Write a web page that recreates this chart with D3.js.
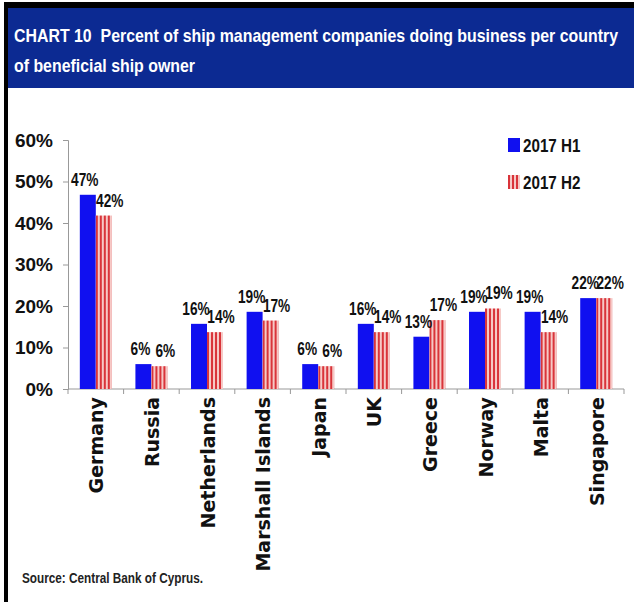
<!DOCTYPE html>
<html>
<head>
<meta charset="utf-8">
<script src="https://cdn.jsdelivr.net/npm/d3@7"></script>
<style>
  body { margin: 0; background: #fff; }
  svg { display: block; }
  .narrow { font-family: "Liberation Sans Narrow", "Arial Narrow", "Liberation Sans", sans-serif; font-weight: bold; }
</style>
</head>
<body>
<svg width="634" height="602"></svg>
<script>
// データ
const categories = ["Germany", "Russia", "Netherlands", "Marshall Islands", "Japan", "UK", "Greece", "Norway", "Malta", "Singapore"];
const seriesNames = ["2017 H1", "2017 H2"];
const h1Values = [46.8, 6.0, 15.7, 18.6, 6.0, 15.7, 12.6, 18.6, 18.6, 21.9];
const h2Values = [41.8, 5.5, 13.7, 16.5, 5.5, 13.7, 16.6, 19.4, 13.7, 21.9];
const yTicks = [0, 10, 20, 30, 40, 50, 60];
const titleLines = ["CHART 10  Percent of ship management companies doing business per country", "of beneficial ship owner"];
const sourceText = "Source: Central Bank of Cyprus.";

const width = 634, height = 602;
const svg = d3.select("svg");

// 文字を横に詰める関数
function condense(sel, f) {
  sel.each(function () {
    const len = this.getComputedTextLength();
    d3.select(this).attr("textLength", len * f).attr("lengthAdjust", "spacingAndGlyphs");
  });
}

// 枠とタイトル帯
svg.append("rect").attr("x", 0).attr("y", 0).attr("width", width).attr("height", height).attr("fill", "#fff");
svg.append("rect").attr("x", 8).attr("y", 8).attr("width", width - 8).attr("height", 80).attr("fill", "#0c2a92");
svg.append("rect").attr("x", 4).attr("y", 2).attr("width", width - 4).attr("height", 6).attr("fill", "#000");
svg.append("rect").attr("x", 4).attr("y", 2).attr("width", 4).attr("height", height - 2).attr("fill", "#000");

const titles = svg.selectAll(".title")
  .data(titleLines)
  .enter().append("text")
  .attr("class", "title narrow")
  .attr("x", 14)
  .attr("y", (d, i) => 42 + i * 30)
  .attr("fill", "#fff")
  .attr("font-size", 19)
  .text(d => d.replace("  ", "\u00a0 "));
const titleRatio = 604 / titles.node().getComputedTextLength();
condense(titles, titleRatio);

// 縞模様
const defs = svg.append("defs");
const pat = defs.append("pattern")
  .attr("id", "stripes")
  .attr("patternUnits", "userSpaceOnUse")
  .attr("width", 4).attr("height", 4);
pat.append("rect").attr("width", 4).attr("height", 4).attr("fill", "#f6c9c6");
pat.append("rect").attr("width", 2).attr("height", 4).attr("fill", "#d9343a");

// スケール
const plotLeft = 68, plotRight = 624, plotTop = 140, plotBottom = 389;
const x0 = d3.scaleBand().domain(categories).range([plotLeft, plotRight]).paddingInner(0.425).paddingOuter(0.2125);
const x1 = d3.scaleBand().domain(seriesNames).range([0, x0.bandwidth()]);
const y = d3.scaleLinear().domain([0, 60]).range([plotBottom, plotTop]);
const colors = { "2017 H1": "#1010f0", "2017 H2": "url(#stripes)" };

// 軸
const yAxis = d3.axisLeft(y).tickValues(yTicks).tickSize(5).tickPadding(10).tickFormat(d => d + "%");
const gy = svg.append("g").attr("transform", `translate(${plotLeft},0)`).call(yAxis);
gy.select(".domain").attr("stroke", "#999");
gy.selectAll(".tick line").attr("stroke", "#999");
gy.selectAll(".tick text").attr("class", "narrow").attr("font-size", 19).attr("fill", "#111");

const xEdge = d3.scaleLinear().domain([0, categories.length]).range([plotLeft, plotRight]);
svg.append("line").attr("x1", plotLeft).attr("x2", plotRight).attr("y1", plotBottom).attr("y2", plotBottom).attr("stroke", "#999");
svg.selectAll(".xtick")
  .data(d3.range(categories.length + 1))
  .enter().append("line")
  .attr("x1", d => xEdge(d)).attr("x2", d => xEdge(d))
  .attr("y1", plotBottom).attr("y2", plotBottom + 5)
  .attr("stroke", "#999");

svg.selectAll(".cat")
  .data(categories)
  .enter().append("text")
  .attr("transform", d => `translate(${x0(d) + x0.bandwidth() / 2 + 1},${plotBottom + 8}) rotate(-90)`)
  .attr("text-anchor", "end")
  .attr("dy", "0.35em")
  .attr("font-family", "DejaVu Sans, Verdana, sans-serif")
  .attr("font-weight", "bold")
  .attr("font-size", 19)
  .attr("fill", "#111")
  .text(d => d);

// 棒
const rows = categories.map((c, i) => ({ cat: c, vals: [h1Values[i], h2Values[i]] }));
const groups = svg.selectAll(".grp")
  .data(rows)
  .enter().append("g")
  .attr("transform", d => `translate(${x0(d.cat)},0)`);

groups.selectAll("rect")
  .data(d => d.vals.map((v, j) => ({ s: seriesNames[j], v: v })))
  .enter().append("rect")
  .attr("x", d => x1(d.s))
  .attr("y", d => y(d.v))
  .attr("width", x1.bandwidth())
  .attr("height", d => plotBottom - y(d.v))
  .attr("fill", d => colors[d.s]);

// ラベル
const labelDx = { "2017 H1": -3, "2017 H2": 6 };
const labels = groups.selectAll(".lbl")
  .data(d => d.vals.map((v, j) => ({ s: seriesNames[j], v: v })))
  .enter().append("text")
  .attr("class", "narrow")
  .attr("x", d => x1(d.s) + x1.bandwidth() / 2 + labelDx[d.s])
  .attr("y", d => y(d.v) - 9)
  .attr("text-anchor", "middle")
  .attr("font-size", 18)
  .attr("fill", "#111")
  .text(d => Math.round(d.v) + "%");
condense(labels, 0.76);

// 凡例
const legend = svg.selectAll(".leg")
  .data(seriesNames)
  .enter().append("g")
  .attr("transform", (d, i) => `translate(508,${138 + i * 37})`);
legend.append("rect")
  .attr("width", 12).attr("height", 14)
  .attr("fill", d => colors[d]);
const legText = legend.append("text")
  .attr("class", "narrow")
  .attr("x", 15).attr("y", 14)
  .attr("font-size", 19)
  .attr("fill", "#111")
  .text(d => d);
condense(legText, 0.8);

// 出典
const src = svg.append("text")
  .attr("class", "narrow")
  .attr("x", 22).attr("y", 583)
  .attr("font-size", 14)
  .attr("fill", "#222")
  .text(sourceText);
condense(src, 0.84);
</script>
</body>
</html>
